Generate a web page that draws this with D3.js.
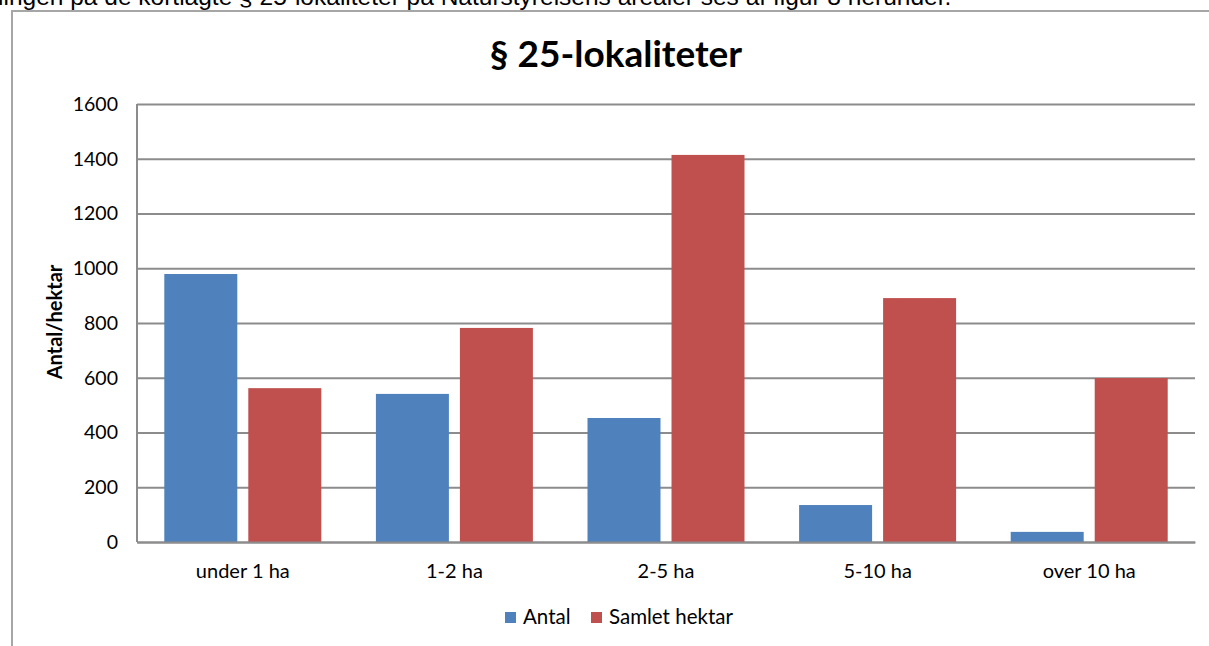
<!DOCTYPE html>
<html>
<head>
<meta charset="utf-8">
<script src="https://cdn.jsdelivr.net/npm/d3@7"></script>
<style>
  body { margin: 0; background: #fff; }
  svg { display: block; }
</style>
</head>
<body>
<div id="grafico"></div>
<script>
// Datos
var categorias = ["under 1 ha", "1-2 ha", "2-5 ha", "5-10 ha", "over 10 ha"];
var series = ["Antal", "Samlet hektar"];
var antal = [979, 541, 453, 135, 37];
var samletHektar = [562, 782, 1414, 891, 599];
var yTicks = [0, 200, 400, 600, 800, 1000, 1200, 1400, 1600];
var colores = ["#4f81bd", "#c0504d"];

var W = 1209, H = 646;
var margin = {top: 104, right: 14, bottom: 104, left: 137},
    width = 1195 - margin.left,
    height = 542 - margin.top;

var svg = d3.select("#grafico").append("svg")
    .attr("width", W)
    .attr("height", H);

// texto del documento (cortado arriba, como en el original)
svg.append("text")
    .attr("x", -2)
    .attr("y", 5)
    .attr("font-family", "Liberation Sans, Arial, sans-serif")
    .attr("font-size", 24.5)
    .attr("fill", "#000")
    .text("lingen på de kortlagte § 25-lokaliteter på Naturstyrelsens arealer ses af figur 8 herunder.");

// marco del grafico
svg.append("path")
    .attr("d", "M" + 12 + "," + H + "V" + 11 + "H" + W)
    .attr("fill", "none")
    .attr("stroke", "#a6a6a6")
    .attr("stroke-width", 2);

var g = svg.append("g").attr("transform", "translate(" + margin.left + "," + margin.top + ")");

var x0 = d3.scaleBand()
    .domain(categorias)
    .range([0, width]);

var x1 = d3.scaleBand()
    .domain(series)
    .range([0, x0.bandwidth()])
    .paddingInner(0.131)
    .paddingOuter(0.325);

var y = d3.scaleLinear()
    .domain([0, 1600])
    .range([height, 0]);

var z = d3.scaleOrdinal().domain(series).range(colores);

// grilla + eje y
var yAxis = g.append("g")
    .attr("class", "axis")
    .call(d3.axisLeft(y).tickValues(yTicks).tickSize(-width).tickPadding(19).tickFormat(d3.format("d")));
yAxis.select(".domain").remove();
yAxis.selectAll(".tick line")
    .attr("stroke", "#8c8c8c")
    .attr("stroke-width", 2);
yAxis.selectAll(".tick text")
    .attr("font-family", "Lato, sans-serif")
    .attr("font-size", 19.5)
    .attr("fill", "#000");

g.append("line")
    .attr("x1", 0).attr("x2", 0)
    .attr("y1", 0).attr("y2", height)
    .attr("stroke", "#8c8c8c")
    .attr("stroke-width", 2);

// barras
var datos = categorias.map(function(c, i) {
    return {cat: c, valores: [{key: series[0], value: antal[i]}, {key: series[1], value: samletHektar[i]}]};
});

g.append("g")
    .selectAll("g")
    .data(datos)
    .enter().append("g")
    .attr("transform", function(d) { return "translate(" + x0(d.cat) + ",0)"; })
    .selectAll("rect")
    .data(function(d) { return d.valores; })
    .enter().append("rect")
    .attr("x", function(d) { return x1(d.key); })
    .attr("y", function(d) { return y(d.value); })
    .attr("width", x1.bandwidth())
    .attr("height", function(d) { return height - y(d.value); })
    .attr("fill", function(d) { return z(d.key); });

// eje x
var xAxis = g.append("g")
    .attr("transform", "translate(0," + height + ")")
    .call(d3.axisBottom(x0).tickSize(0).tickPadding(22));
xAxis.select(".domain")
    .attr("stroke", "#8c8c8c")
    .attr("stroke-width", 2);
xAxis.selectAll(".tick text")
    .attr("font-family", "Lato, sans-serif")
    .attr("font-size", 20)
    .attr("fill", "#000");

// titulo
svg.append("text")
    .attr("x", 616)
    .attr("y", 67)
    .attr("text-anchor", "middle")
    .attr("font-family", "Lato, sans-serif")
    .attr("font-weight", "bold")
    .attr("font-size", 37)
    .attr("fill", "#000")
    .text("§ 25-lokaliteter");

// titulo eje y
svg.append("text")
    .attr("transform", "translate(62,322) rotate(-90)")
    .attr("text-anchor", "middle")
    .attr("font-family", "Lato, sans-serif")
    .attr("font-weight", "bold")
    .attr("font-size", 20)
    .attr("fill", "#000")
    .text("Antal/hektar");

// leyenda
var legX = [505, 591];
var legend = svg.append("g")
    .selectAll("g")
    .data(series)
    .enter().append("g")
    .attr("transform", function(d, i) { return "translate(" + legX[i] + ",612)"; });

legend.append("rect")
    .attr("width", 11)
    .attr("height", 11)
    .attr("fill", z);

legend.append("text")
    .attr("x", 18)
    .attr("y", 12)
    .attr("font-family", "Lato, sans-serif")
    .attr("font-size", 20.5)
    .attr("fill", "#000")
    .text(function(d) { return d; });
</script>
</body>
</html>
